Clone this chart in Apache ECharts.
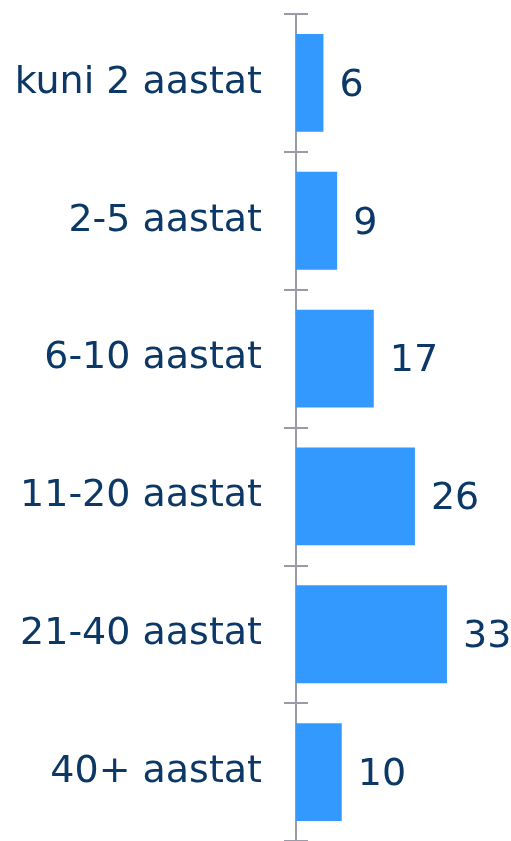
<!DOCTYPE html>
<html>
<head>
<meta charset="utf-8">
<script src="https://cdn.jsdelivr.net/npm/echarts@6/dist/echarts.min.js"></script>
<style>
  html, body { margin: 0; padding: 0; background: #fff; }
  #myChart { width: 511px; height: 841px; }
</style>
</head>
<body>
<div id="myChart"></div>
<script>
// kategooriad ja väärtused
var categories = ["kuni 2 aastat", "2-5 aastat", "6-10 aastat", "11-20 aastat", "21-40 aastat", "40+ aastat"];
var values = [6, 9, 17, 26, 33, 10];

var textColor = "#0b3866";
var axisColor = "#9a9aa8";
var myChart = echarts.init(document.getElementById("myChart"));
myChart.setOption({
  animation: false,
  grid: {
    left: 296,
    right: 0,
    top: 14,
    height: 828
  },
  xAxis: {
    type: "value",
    min: 0,
    max: 47,
    show: false
  },
  yAxis: [
    {
      type: "category",
      inverse: true,
      data: categories,
      axisLine: { show: true, lineStyle: { color: axisColor, width: 2 } },
      axisTick: { show: true, length: 12, lineStyle: { color: axisColor, width: 2 } },
      axisLabel: {
        margin: 34,
        color: textColor,
        fontFamily: "DejaVu Sans",
        fontSize: 38,
        padding: [6, 0, 0, 0]
      }
    },
    {
      // teine telg ainult sissepoole jäävate kriipsude jaoks
      type: "category",
      position: "left",
      inverse: true,
      data: categories,
      axisLine: { show: false },
      axisTick: { show: true, inside: true, length: 12, lineStyle: { color: axisColor, width: 2 } },
      axisLabel: { show: false }
    }
  ],
  series: [
    {
      type: "bar",
      data: values,
      barCategoryGap: "29%",
      itemStyle: { color: "#3399ff" },
      label: {
        show: true,
        position: "right",
        distance: 16,
        offset: [0, 3],
        color: textColor,
        fontFamily: "DejaVu Sans",
        fontSize: 38
      }
    }
  ]
});
</script>
</body>
</html>
